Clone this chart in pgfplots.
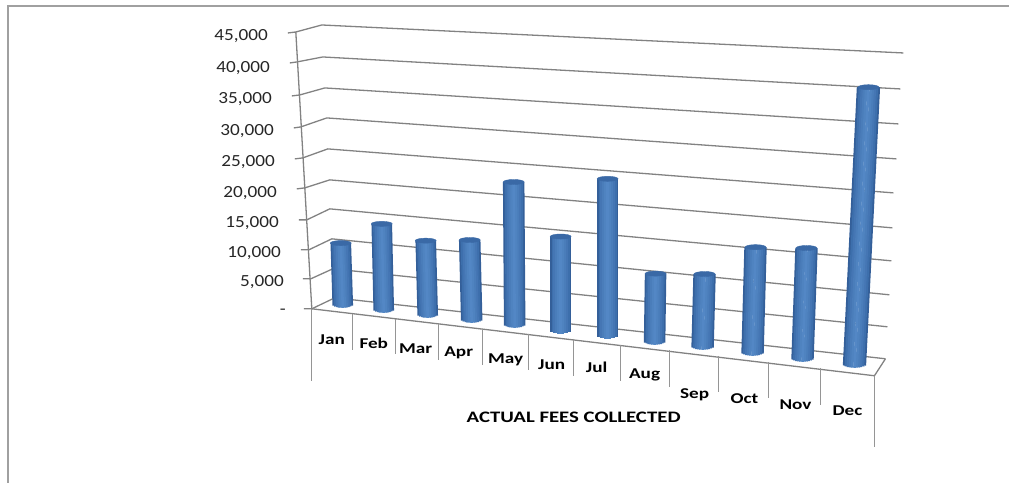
\documentclass[border=0pt]{standalone}
\usepackage{pgfplots}
\pgfplotsset{compat=1.18}
\usepackage{pgfplotstable}
\usepackage{fontspec}
\setmainfont{Carlito}
\definecolor{gridc}{HTML}{828282}
\definecolor{framec}{HTML}{A0A0A0}
\definecolor{capc}{HTML}{3A69A6}
\definecolor{b1}{HTML}{345F99}
\definecolor{b2}{HTML}{3D6FAC}
\definecolor{b3}{HTML}{4576B4}
\definecolor{b4}{HTML}{4A7DBA}
\definecolor{b5}{HTML}{4F83C0}
\definecolor{b6}{HTML}{5387C5}
% xb,yb: foot of the bar in the picture; dx: lean; val: fee; w: width; s: pixels per 1000
\pgfplotstableread{
xb  yb  dx   val   w  s
343 304 -2   9800  20 6.20
384 309 -2   13600 20 6.25
428 314 -2   11600 20 6.31
472 319 -2   12400 21 6.36
515 324 -1   22100 21 6.42
561 330  0   14400 21 6.48
608 335  0   23900 21 6.53
655 341  1   10200 21 6.59
703 346  2   10800 22 6.65
753 352  3   15600 22 6.71
803 358  4   16200 22 6.78
855 364  14  40400 23 6.85
}\bars
\newcommand\layer[3]{\addplot[#3, line width=#2pt, forget plot,
  quiver={u=\thisrow{dx}, v=-(\thisrow{val}*\thisrow{s}/1000)-4*sqrt(1-4*(#1)*(#1))}]
  table[x expr=\thisrow{xb}+(#1)*\thisrow{w}, y expr=\thisrow{yb}+4*sqrt(1-4*(#1)*(#1))]{\bars};}
\newcommand\gl[1]{\addplot[gridc, line width=1.3pt, forget plot] coordinates {#1};}
\newcommand\dv[4]{\addplot[gridc!85, line width=1.1pt, forget plot] coordinates {(#1,#2) (#3,#4)};}
\newcommand\tl[3]{\node[anchor=east, font=\fontsize{17}{17}\selectfont, xscale=1.13, text=black!85] at (axis cs:#1+2,#2+1) {#3};}
\newcommand\ml[3]{\node[font=\fontsize{15}{15}\selectfont\bfseries, xscale=1.28, text=black] at (axis cs:#1,#2+1) {#3};}
\begin{document}
\begin{tikzpicture}
\begin{axis}[width=1010pt, height=483pt, scale only axis, hide axis,
  xmin=0, xmax=1010, ymin=0, ymax=483, y dir=reverse, clip=false]
\path (axis cs:0,0) rectangle (axis cs:1010,483);
% frame
\addplot[framec, line width=1.3pt, forget plot] coordinates {(8,483) (8,6) (1010,6)};
% gridlines
\gl{(288,33) (296,32) (322,25) (904,53)}
\gl{(290,63) (297,62) (323,57) (901,89)}
\gl{(292,96) (300,95) (325,88) (899,124)}
\gl{(294,128) (301,127) (327,118) (897,159)}
\gl{(295,159) (303,158) (328,149) (894,193)}
\gl{(297,189) (305,188) (330,180) (893,228)}
\gl{(299,220) (307,220) (330,209) (892,261)}
\gl{(301,250) (309,250) (332,239) (890,295)}
\gl{(303,279) (311,279) (333,269) (888,327)}
\gl{(304,309) (312,309) (335,298) (886,359)}
% wall and floor
\gl{(296,32) (312,309)}
\gl{(312,309) (875,376) (886,359)}
\dv{312}{309}{312}{381}
\dv{353}{314}{353}{350}
\dv{396}{319}{396}{354}
\dv{439}{324}{439}{360}
\dv{483}{329}{483}{365}
\dv{529}{334}{529}{370}
\dv{574}{339}{574}{376}
\dv{621}{345}{621}{381}
\dv{670}{350}{670}{387}
\dv{719}{356}{719}{392}
\dv{769}{362}{769}{398}
\dv{821}{368}{821}{405}
\dv{875}{376}{875}{447}
% cylinders
\layer{-0.45}{2.6}{b1}
\layer{0.45}{2.6}{b1}
\layer{-0.37}{2.6}{b2}
\layer{0.37}{2.6}{b2}
\layer{-0.28}{2.6}{b3}
\layer{0.28}{2.6}{b3}
\layer{-0.19}{2.6}{b4}
\layer{0.19}{2.6}{b4}
\layer{-0.1}{2.6}{b5}
\layer{0.1}{2.6}{b5}
\layer{0}{2.6}{b6}
\addplot[only marks, mark=*, mark size=10.5pt, forget plot,
  mark options={yscale=0.24, draw=capc, fill=capc}]
  table[x expr=\thisrow{xb}+\thisrow{dx}, y expr=\thisrow{yb}-\thisrow{val}*\thisrow{s}/1000]{\bars};
% value labels
\tl{270}{35}{45,000}
\tl{272}{67}{40,000}
\tl{274}{98}{35,000}
\tl{276}{130}{30,000}
\tl{277}{161}{25,000}
\tl{279}{192}{20,000}
\tl{281}{222}{15,000}
\tl{283}{252}{10,000}
\tl{286}{281}{5,000}
\tl{288}{311}{-}
% category labels
\ml{332}{339}{Jan}
\ml{374}{343}{Feb}
\ml{416}{348}{Mar}
\ml{459}{352}{Apr}
\ml{506}{359}{May}
\ml{552}{364}{Jun}
\ml{597}{367}{Jul}
\ml{645}{374}{Aug}
\ml{695}{394}{Sep}
\ml{745}{398}{Oct}
\ml{796}{404}{Nov}
\ml{848}{410}{Dec}
\node[font=\fontsize{16}{16}\selectfont\bfseries, xscale=1.3] at (axis cs:574,418) {ACTUAL FEES COLLECTED};
\end{axis}
\end{tikzpicture}
\end{document}
